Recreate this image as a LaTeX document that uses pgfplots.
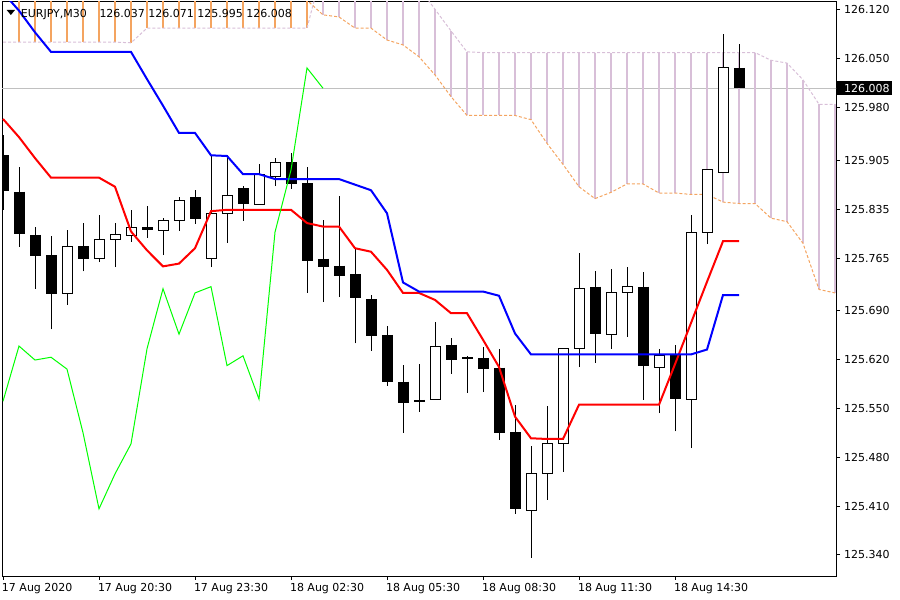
\documentclass[border=0pt]{standalone}
\usepackage{fontspec}
\setmainfont{DejaVu Sans}
\usepackage{pgfplots}
\pgfplotsset{compat=1.18}
\usepackage{pgfplotstable}
\definecolor{sandy}{RGB}{244,164,96}
\definecolor{thist}{RGB}{216,191,216}
\definecolor{silv}{RGB}{192,192,192}
\definecolor{chik}{RGB}{0,255,0}
\newcommand{\lblfont}{\fontsize{11bp}{13bp}\selectfont}

\pgfplotstableread{
i a b
0 126.149 126.074
1 126.149 126.074
2 126.149 126.074
3 126.149 126.074
4 126.149 126.074
5 126.149 126.074
6 126.149 126.074
7 126.149 126.074
8 126.149 126.073
9 126.149 126.094
10 126.149 126.094
11 126.149 126.094
12 126.149 126.094
13 126.149 126.094
14 126.149 126.094
15 126.149 126.094
16 126.149 126.094
17 126.149 126.094
18 126.149 126.094
19 126.134 126.094
20 126.113 126.182
21 126.110 126.182
22 126.094 126.182
23 126.094 126.182
24 126.077 126.182
25 126.070 126.182
26 126.053 126.152
27 126.027 126.121
28 125.996 126.090
29 125.969 126.060
30 125.969 126.059
31 125.969 126.059
32 125.969 126.059
33 125.963 126.059
34 125.929 126.059
35 125.899 126.059
36 125.867 126.059
37 125.850 126.059
38 125.859 126.059
39 125.871 126.059
40 125.871 126.059
41 125.858 126.059
42 125.858 126.059
43 125.856 126.059
44 125.856 126.059
45 125.845 126.059
46 125.843 126.059
47 125.843 126.059
48 125.822 126.048
49 125.817 126.044
50 125.786 126.020
51 125.720 125.985
52 125.715 125.985
}\cloud

\pgfplotstableread{
i t k
0 125.964 126.145
1 125.938 126.119
2 125.908 126.088
3 125.880 126.060
4 125.880 126.060
5 125.880 126.060
6 125.880 126.060
7 125.867 126.060
8 125.803 126.060
9 125.776 126.021
10 125.753 125.983
11 125.757 125.944
12 125.779 125.944
13 125.832 125.912
14 125.834 125.911
15 125.834 125.885
16 125.834 125.885
17 125.834 125.878
18 125.834 125.878
19 125.815 125.878
20 125.810 125.878
21 125.810 125.878
22 125.779 125.870
23 125.774 125.862
24 125.748 125.829
25 125.715 125.730
26 125.715 125.717
27 125.705 125.717
28 125.686 125.717
29 125.686 125.717
30 125.648 125.717
31 125.609 125.711
32 125.538 125.657
33 125.507 125.627
34 125.506 125.627
35 125.506 125.627
36 125.555 125.627
37 125.555 125.627
38 125.555 125.627
39 125.555 125.627
40 125.555 125.627
41 125.555 125.627
42 125.613 125.627
43 125.672 125.627
44 125.731 125.634
45 125.789 125.712
46 125.789 125.712
}\lines

\begin{document}
\begin{tikzpicture}
\useasboundingbox (0bp,0bp) rectangle (900bp,600bp);
\begin{axis}[
  at={(2bp,24bp)}, anchor=south west,
  width=834bp, height=574bp, scale only axis,
  xmin=-0.0625, xmax=52.0625,
  ymin=125.3099, ymax=126.1314,
  unbounded coords=jump,
  axis line style={black, line width=1bp},
  tick align=outside,
  major tick length=4bp,
  tick style={black, line width=1bp},
  ytick pos=right, yticklabel pos=right,
  xtick pos=bottom,
  ytick={125.340,125.410,125.480,125.550,125.620,125.690,125.765,125.835,125.905,125.980,126.050,126.120},
  yticklabels={125.340,125.410,125.480,125.550,125.620,125.690,125.765,125.835,125.905,125.980,126.050,126.120},
  xtick={0,6,12,18,24,30,36,42},
  xticklabels={17 Aug 2020,17 Aug 20:30,17 Aug 23:30,18 Aug 02:30,18 Aug 05:30,18 Aug 08:30,18 Aug 11:30,18 Aug 14:30},
  ticklabel style={font=\lblfont, inner sep=0pt},
  yticklabel style={anchor=west, xshift=4bp},
  xticklabel style={anchor=north west, xshift=-1.2bp, yshift=-3.3bp},
  extra y ticks={126.008},
  extra y tick labels={\hspace*{5bp}126.008},
  extra y tick style={yticklabel style={fill=black, text=white, inner xsep=2bp, inner ysep=2.7bp, xshift=-7bp}},
]
\addplot[silv, line width=1bp] coordinates {(-1,126.008) (53,126.008)};
% cloud histogram: Span A above Span B
\addplot[sandy, line width=2bp] coordinates {
(1,126.074) (1,126.149) (1,nan) (2,126.074) (2,126.149) (2,nan)
(3,126.074) (3,126.149) (3,nan) (4,126.074) (4,126.149) (4,nan)
(5,126.074) (5,126.149) (5,nan) (6,126.074) (6,126.149) (6,nan)
(7,126.074) (7,126.149) (7,nan) (8,126.073) (8,126.149) (8,nan)
(9,126.094) (9,126.149) (9,nan) (10,126.094) (10,126.149) (10,nan)
(11,126.094) (11,126.149) (11,nan) (12,126.094) (12,126.149) (12,nan)
(13,126.094) (13,126.149) (13,nan) (14,126.094) (14,126.149) (14,nan)
(15,126.094) (15,126.149) (15,nan) (16,126.094) (16,126.149) (16,nan)
(17,126.094) (17,126.149) (17,nan) (18,126.094) (18,126.149) (18,nan)
(19,126.094) (19,126.134)};
% cloud histogram: Span B above Span A
\addplot[thist, line width=2bp] coordinates {
(20,126.113) (20,126.182) (20,nan) (21,126.110) (21,126.182) (21,nan)
(22,126.094) (22,126.182) (22,nan) (23,126.094) (23,126.182) (23,nan)
(24,126.077) (24,126.182) (24,nan) (25,126.070) (25,126.182) (25,nan)
(26,126.053) (26,126.152) (26,nan) (27,126.027) (27,126.121) (27,nan)
(28,125.996) (28,126.090) (28,nan) (29,125.969) (29,126.060) (29,nan)
(30,125.969) (30,126.059) (30,nan) (31,125.969) (31,126.059) (31,nan)
(32,125.969) (32,126.059) (32,nan) (33,125.963) (33,126.059) (33,nan)
(34,125.929) (34,126.059) (34,nan) (35,125.899) (35,126.059) (35,nan)
(36,125.867) (36,126.059) (36,nan) (37,125.850) (37,126.059) (37,nan)
(38,125.859) (38,126.059) (38,nan) (39,125.871) (39,126.059) (39,nan)
(40,125.871) (40,126.059) (40,nan) (41,125.858) (41,126.059) (41,nan)
(42,125.858) (42,126.059) (42,nan) (43,125.856) (43,126.059) (43,nan)
(44,125.856) (44,126.059) (44,nan) (45,125.845) (45,126.059) (45,nan)
(46,125.843) (46,126.059) (46,nan) (47,125.843) (47,126.059) (47,nan)
(48,125.822) (48,126.048) (48,nan) (49,125.817) (49,126.044) (49,nan)
(50,125.786) (50,126.020) (50,nan) (51,125.720) (51,125.985) (51,nan)
(52,125.715) (52,125.985)};
\addplot[sandy, line width=1bp, dash pattern=on 3bp off 2bp] table[x=i,y=a]{\cloud};
\addplot[thist, line width=1bp, dash pattern=on 3bp off 2bp] table[x=i,y=b]{\cloud};

% wicks (low, high)
\addplot[black, line width=1bp] coordinates {
(0,125.834) (0,125.941) (0,nan) (1,125.781) (1,125.895) (1,nan)
(2,125.721) (2,125.809) (2,nan) (3,125.663) (3,125.797) (3,nan)
(4,125.698) (4,125.805) (4,nan) (5,125.746) (5,125.815) (5,nan)
(6,125.759) (6,125.827) (6,nan) (7,125.752) (7,125.815) (7,nan)
(8,125.788) (8,125.834) (8,nan) (9,125.794) (9,125.839) (9,nan)
(10,125.769) (10,125.822) (10,nan) (11,125.804) (11,125.852) (11,nan)
(12,125.814) (12,125.862) (12,nan) (13,125.752) (13,125.912) (13,nan)
(14,125.787) (14,125.912) (14,nan) (15,125.818) (15,125.868) (15,nan)
(16,125.841) (16,125.900) (16,nan) (17,125.868) (17,125.908) (17,nan)
(18,125.864) (18,125.915) (18,nan) (19,125.715) (19,125.895) (19,nan)
(20,125.702) (20,125.819) (20,nan) (21,125.709) (21,125.854) (21,nan)
(22,125.643) (22,125.779) (22,nan) (23,125.632) (23,125.712) (23,nan)
(24,125.582) (24,125.668) (24,nan) (25,125.515) (25,125.612) (25,nan)
(26,125.545) (26,125.613) (26,nan) (27,125.562) (27,125.673) (27,nan)
(28,125.599) (28,125.651) (28,nan) (29,125.572) (29,125.625) (29,nan)
(30,125.573) (30,125.638) (30,nan) (31,125.505) (31,125.635) (31,nan)
(32,125.399) (32,125.555) (32,nan) (33,125.336) (33,125.496) (33,nan)
(34,125.419) (34,125.553) (34,nan) (35,125.459) (35,125.635) (35,nan)
(36,125.609) (36,125.772) (36,nan) (37,125.615) (37,125.746) (37,nan)
(38,125.635) (38,125.749) (38,nan) (39,125.652) (39,125.752) (39,nan)
(40,125.562) (40,125.745) (40,nan) (41,125.543) (41,125.635) (41,nan)
(42,125.517) (42,125.641) (42,nan) (43,125.493) (43,125.827) (43,nan)
(44,125.785) (44,125.891) (44,nan) (45,125.888) (45,126.086) (45,nan)
(46,126.008) (46,126.071)};
% bearish bodies (open, close)
\addplot[black, line width=11bp] coordinates {
(0,125.912) (0,125.861) (0,nan) (1,125.860) (1,125.799) (1,nan)
(2,125.798) (2,125.768) (2,nan) (3,125.769) (3,125.714) (3,nan)
(5,125.782) (5,125.764) (5,nan) (9,125.809) (9,125.805) (9,nan)
(12,125.852) (12,125.821) (12,nan) (15,125.865) (15,125.842) (15,nan)
(18,125.902) (18,125.871) (18,nan) (19,125.872) (19,125.761) (19,nan)
(20,125.764) (20,125.752) (20,nan) (21,125.754) (21,125.739) (21,nan)
(22,125.742) (22,125.708) (22,nan) (23,125.706) (23,125.653) (23,nan)
(24,125.655) (24,125.588) (24,nan) (25,125.588) (25,125.558) (25,nan)
(26,125.562) (26,125.5595) (26,nan) (28,125.641) (28,125.619) (28,nan)
(30,125.622) (30,125.606) (30,nan) (31,125.608) (31,125.515) (31,nan)
(32,125.516) (32,125.406) (32,nan) (37,125.724) (37,125.656) (37,nan)
(40,125.724) (40,125.611) (40,nan) (42,125.626) (42,125.563) (42,nan)
(46,126.037) (46,126.008)};
% bullish bodies (open, close) as outlined boxes
\addplot[black, line width=1bp, fill=white] coordinates {
(3.6875,125.714) (4.3125,125.714) (4.3125,125.781) (3.6875,125.781) (3.6875,125.714) (4,nan)
(5.6875,125.764) (6.3125,125.764) (6.3125,125.791) (5.6875,125.791) (5.6875,125.764) (6,nan)
(6.6875,125.791) (7.3125,125.791) (7.3125,125.798) (6.6875,125.798) (6.6875,125.791) (7,nan)
(7.6875,125.797) (8.3125,125.797) (8.3125,125.809) (7.6875,125.809) (7.6875,125.797) (8,nan)
(9.6875,125.805) (10.3125,125.805) (10.3125,125.819) (9.6875,125.819) (9.6875,125.805) (10,nan)
(10.6875,125.819) (11.3125,125.819) (11.3125,125.848) (10.6875,125.848) (10.6875,125.819) (11,nan)
(12.6875,125.765) (13.3125,125.765) (13.3125,125.829) (12.6875,125.829) (12.6875,125.765) (13,nan)
(13.6875,125.828) (14.3125,125.828) (14.3125,125.855) (13.6875,125.855) (13.6875,125.828) (14,nan)
(15.6875,125.842) (16.3125,125.842) (16.3125,125.885) (15.6875,125.885) (15.6875,125.842) (16,nan)
(16.6875,125.881) (17.3125,125.881) (17.3125,125.901) (16.6875,125.901) (16.6875,125.881) (17,nan)
(26.6875,125.562) (27.3125,125.562) (27.3125,125.639) (26.6875,125.639) (26.6875,125.562) (27,nan)
(28.6875,125.621) (29.3125,125.621) (29.3125,125.623) (28.6875,125.623) (28.6875,125.621) (29,nan)
(32.6875,125.404) (33.3125,125.404) (33.3125,125.456) (32.6875,125.456) (32.6875,125.404) (33,nan)
(33.6875,125.457) (34.3125,125.457) (34.3125,125.499) (33.6875,125.499) (33.6875,125.457) (34,nan)
(34.6875,125.499) (35.3125,125.499) (35.3125,125.635) (34.6875,125.635) (34.6875,125.499) (35,nan)
(35.6875,125.635) (36.3125,125.635) (36.3125,125.721) (35.6875,125.721) (35.6875,125.635) (36,nan)
(37.6875,125.656) (38.3125,125.656) (38.3125,125.715) (37.6875,125.715) (37.6875,125.656) (38,nan)
(38.6875,125.716) (39.3125,125.716) (39.3125,125.724) (38.6875,125.724) (38.6875,125.716) (39,nan)
(40.6875,125.609) (41.3125,125.609) (41.3125,125.625) (40.6875,125.625) (40.6875,125.609) (41,nan)
(42.6875,125.563) (43.3125,125.563) (43.3125,125.802) (42.6875,125.802) (42.6875,125.563) (43,nan)
(43.6875,125.802) (44.3125,125.802) (44.3125,125.891) (43.6875,125.891) (43.6875,125.802) (44,nan)
(44.6875,125.888) (45.3125,125.888) (45.3125,126.037) (44.6875,126.037) (44.6875,125.888)};

\addplot[red, line width=2bp] table[x=i,y=t]{\lines};
\addplot[blue, line width=2bp] table[x=i,y=k]{\lines};
\addplot[chik, line width=1bp] coordinates {
(0,125.560) (1,125.639) (2,125.619) (3,125.623) (4,125.606) (5,125.515) (6,125.406) (7,125.456) (8,125.499) (9,125.635) (10,125.721) (11,125.656) (12,125.715) (13,125.724) (14,125.611) (15,125.625) (16,125.563) (17,125.802) (18,125.891) (19,126.037) (20,126.008)};
\end{axis}
\fill[black] (6.7bp,590bp) -- (15bp,590bp) -- (10.85bp,585bp) -- cycle;
\node[anchor=base west, inner sep=0pt, font=\lblfont] at (20.7bp,582.7bp) {EURJPY,M30};
\node[anchor=base west, inner sep=0pt, font=\lblfont] at (99.3bp,582.7bp) {126.037 126.071 125.995 126.008};
\end{tikzpicture}
\end{document}
